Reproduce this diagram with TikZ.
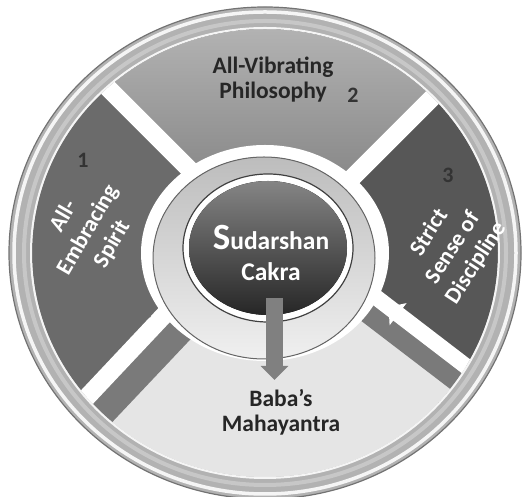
\documentclass[tikz,border=0pt]{standalone}
\usepackage{fontspec}
\setmainfont{Carlito}
\usepackage{tikz}
\usetikzlibrary{shapes,arrows.meta,positioning}
\tikzstyle{lbl}=[align=center, font=\fontsize{23.5}{25}\selectfont\bfseries]
\tikzstyle{darklbl}=[lbl, text=black!85]
\tikzstyle{lightlbl}=[lbl, text=white]
\tikzstyle{turnlbl}=[lightlbl, font=\fontsize{23}{28}\selectfont\bfseries]
\tikzstyle{numlbl}=[font=\fontsize{22}{24}\selectfont\bfseries, text=black!80]
\tikzstyle{gapstrip}=[line width=18pt, white]
\tikzstyle{shadestrip}=[line width=28pt, black!52]
\tikzstyle{bigarrow}=[line width=17pt, black!50, -{Triangle[width=27pt,length=14pt]}]

\begin{document}
\begin{tikzpicture}[x=1pt,y=1pt]
\useasboundingbox (0,0) rectangle (530,497);
\coordinate (o) at (265,244);
\coordinate (r) at (264,239);
\coordinate (b) at (268,249);

\fill[black!30,draw=black!55,line width=1.2pt] (o) ellipse [x radius=256pt,y radius=246pt];
\draw[black!4,line width=3.5pt] (o) ellipse [x radius=251pt,y radius=241pt];
\draw[black!22,line width=4pt] (o) ellipse [x radius=241pt,y radius=232pt];
\begin{scope}
\clip (o) ellipse [x radius=233pt,y radius=224pt];
\fill[black!10] (o) ellipse [x radius=233pt,y radius=224pt];
\fill[top color=black!20,bottom color=black!55] (275,242) -- (20,497) -- (275,560) -- (520,487) -- cycle;
\fill[black!58] (247,270) -- (0,517) -- (-40,244) -- (20,29) -- cycle;
\fill[black!66] (295,262) -- (540,507) -- (570,244) -- (560,59) -- cycle;
\draw[shadestrip] (60,40) -- (215,204);
\draw[shadestrip,line width=20pt] (349,198) -- (540,52);
\draw[gapstrip] (265,252) -- (20,497);
\draw[gapstrip] (265,232) -- (510,477);
\draw[gapstrip] (40,50) -- (200,220);
\draw[gapstrip,line width=16pt] (360,212) -- (540,74);
\fill[black!58] (140,191) -- (151,180) -- (139,178) -- cycle;
\fill[white] (388.6,190.1) -- (406.6,193.9) -- (389.6,171.7) -- cycle;
\end{scope}
\draw[black!4,line width=2pt] (o) ellipse [x radius=234pt,y radius=225pt];

\fill[white] (o) ellipse [x radius=124pt,y radius=108pt];
\fill[top color=black!26,bottom color=black!6,draw=black!60,line width=1pt] (r) ellipse [x radius=111pt,y radius=101pt];
\fill[white,draw=black!75,line width=1.2pt] (b) ellipse [x radius=85pt,y radius=74pt];
\fill[top color=black!48,bottom color=black!85] (b) ellipse [x radius=79pt,y radius=67pt];

\node[lightlbl,font=\fontsize{25.5}{31}\selectfont\bfseries] (c0) at (271,244) {{\fontsize{37}{31}\selectfont S}udarshan\\Cakra};
\node[darklbl] (s2) at (273,417) {All-Vibrating\\Philosophy};
\node[turnlbl,rotate=60] (s1) at (88,267) {All-\\Embracing\\Spirit};
\node[turnlbl,rotate=57] (s3) at (453,249) {Strict\\Sense of\\Discipline};
\node[darklbl] (s4) at (281,85) {Baba's\\Mahayantra};
\node[numlbl] (n1) at (83,337) {1};
\node[numlbl] (n2) at (353,402) {2};
\node[numlbl] (n3) at (448,322) {3};

\coordinate (tip) at (274.5,117);
\draw[bigarrow] ([xshift=3.5pt,yshift=-45pt]c0.center) -- (tip);

\end{tikzpicture}
\end{document}
